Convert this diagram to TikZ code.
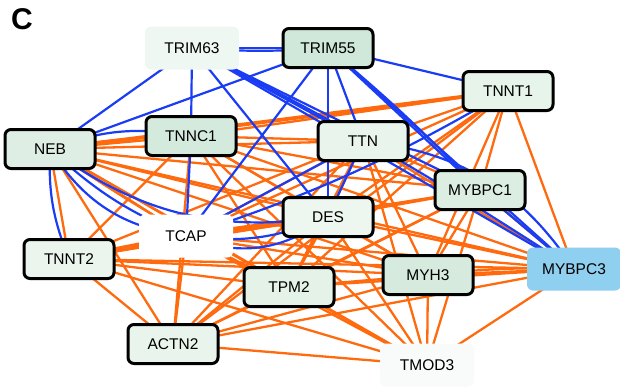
\documentclass[tikz,border=0pt]{standalone}
\usepackage{fontspec}
\setmainfont{Liberation Sans}
\usetikzlibrary{backgrounds}
\definecolor{eorange}{HTML}{FF6A0E}
\definecolor{eblue}{HTML}{1A3CF5}
\definecolor{fTRIMa}{HTML}{EEF7F1}
\definecolor{fTRIMb}{HTML}{CFE8D9}
\definecolor{fTNNTa}{HTML}{E6F4EA}
\definecolor{fNEB}{HTML}{DFEEE4}
\definecolor{fTNNC}{HTML}{D3EADC}
\definecolor{fTTN}{HTML}{E8F4EC}
\definecolor{fMYBPCa}{HTML}{DCEEE2}
\definecolor{fDES}{HTML}{EEF6F0}
\definecolor{fTNNTb}{HTML}{EBF5EE}
\definecolor{fMYBPCc}{HTML}{8FCFF0}
\definecolor{fMYH}{HTML}{D6EBDD}
\definecolor{fTPM}{HTML}{E4F2E8}
\definecolor{fACTN}{HTML}{E9F4EC}
\definecolor{fTMOD}{HTML}{F8FBF9}
\tikzset{
  gene/.style={rounded corners=6pt, minimum width=90pt, minimum height=39pt,
    line width=3pt, draw=black, font=\fontsize{15.5}{15.5}\selectfont, inner sep=0pt},
  plain/.style={rounded corners=6pt, minimum width=94pt, minimum height=43pt,
    font=\fontsize{15.5}{15.5}\selectfont, inner sep=0pt},
  oe/.style={draw=eorange, line width=2.3pt},
  oet/.style={draw=eorange, line width=5.5pt},
  be/.style={draw=eblue, line width=2.2pt},
}
\begin{document}
\begin{tikzpicture}[x=1pt,y=-1pt]
\useasboundingbox (0,0) rectangle (620,386);
\node[font=\fontsize{30}{30}\selectfont\bfseries] (lab) at (22,19) {C};
\node[plain, fill=fTRIMa] (TRIM63) at (192,48) {TRIM63};
\node[gene, fill=fTRIMb] (TRIM55) at (328,48) {TRIM55};
\node[gene, fill=fTNNTa] (TNNT1) at (508,91) {TNNT1};
\node[gene, fill=fNEB] (NEB) at (50,149) {NEB};
\node[gene, fill=fTNNC] (TNNC1) at (191,136) {TNNC1};
\node[gene, fill=fTTN] (TTN) at (363,141) {TTN};
\node[gene, fill=fMYBPCa] (MYBPC1) at (480,190) {MYBPC1};
\node[gene, fill=fDES] (DES) at (328,217) {DES};
\node[plain, fill=white] (TCAP) at (186,236) {TCAP};
\node[gene, fill=fTNNTb] (TNNT2) at (69,259) {TNNT2};
\node[plain, fill=fMYBPCc] (MYBPC3) at (574,269) {MYBPC3};
\node[gene, fill=fMYH] (MYH3) at (428,275) {MYH3};
\node[gene, fill=fTPM] (TPM2) at (289,287) {TPM2};
\node[gene, fill=fACTN] (ACTN2) at (173,344) {ACTN2};
\node[plain, fill=fTMOD] (TMOD3) at (427,365) {TMOD3};
\begin{scope}[on background layer]
% orange edges (near complete graph)
\foreach \a/\b in {NEB/TNNC1,NEB/TTN,NEB/TNNT1,NEB/MYBPC1,NEB/DES,NEB/TCAP,NEB/TNNT2,NEB/MYBPC3,NEB/MYH3,NEB/TPM2,NEB/ACTN2,NEB/TMOD3,
  TNNC1/TTN,TNNC1/TNNT1,TNNC1/MYBPC1,TNNC1/DES,TNNC1/TNNT2,TNNC1/MYBPC3,TNNC1/MYH3,TNNC1/TPM2,TNNC1/ACTN2,TNNC1/TMOD3,
  TTN/TNNT1,TTN/MYBPC1,TTN/DES,TTN/TCAP,TTN/TNNT2,TTN/MYBPC3,TTN/MYH3,TTN/TPM2,TTN/ACTN2,TTN/TMOD3,
  TNNT1/MYBPC1,TNNT1/DES,TNNT1/TCAP,TNNT1/MYBPC3,TNNT1/MYH3,TNNT1/TPM2,TNNT1/ACTN2,
  MYBPC1/DES,MYBPC1/TCAP,MYBPC1/TNNT2,MYBPC1/MYBPC3,MYBPC1/MYH3,MYBPC1/TPM2,MYBPC1/ACTN2,MYBPC1/TMOD3,
  DES/TNNT2,DES/MYBPC3,DES/MYH3,DES/TPM2,DES/ACTN2,DES/TMOD3,
  TCAP/MYBPC3,TCAP/MYH3,TCAP/TPM2,TCAP/ACTN2,TCAP/TMOD3,
  TNNT2/MYBPC3,TNNT2/MYH3,TNNT2/TPM2,TNNT2/ACTN2,TNNT2/TMOD3,
  MYBPC3/MYH3,MYBPC3/TPM2,MYBPC3/ACTN2,MYBPC3/TMOD3,
  MYH3/TPM2,MYH3/ACTN2,MYH3/TMOD3,
  TPM2/ACTN2,TPM2/TMOD3,ACTN2/TMOD3}
  {\draw[oe] (\a.center) -- (\b.center);}
\draw[oet] (TCAP.center) -- (DES.center);
\draw[oet] (TCAP.center) -- (TNNT2.center);
\draw[draw=eorange, line width=3.8pt] (NEB.center) -- (TNNT1.center);
\draw[oe] (NEB.center) to[bend left=4] (TNNC1.center);
\draw[oe] (MYH3.center) to[bend left=4] (MYBPC3.center);
\draw[oe] (NEB.center) to[bend right=4] (TPM2.center);
% blue edges
\draw[be] (TRIM63.center) -- (TRIM55.center);
\draw[be] (TRIM63.center) to[bend right=4] (TRIM55.center);
\foreach \b in {NEB,TNNC1,DES,TTN,MYBPC1,MYBPC3}
  {\draw[be] (TRIM63.center) -- (\b.center);}
\draw[be] (TRIM63.center) to[bend left=3] (MYBPC3.center);
\foreach \b in {NEB,TNNT1,TTN,TCAP,MYBPC1,MYBPC3,DES}
  {\draw[be] (TRIM55.center) -- (\b.center);}
\draw[be] (TRIM55.center) to[bend left=3] (MYBPC1.center);
\draw[be] (TTN.center) to[bend left=25] (MYBPC3.center);
\draw[be] (TNNT1.center) to[bend left=6] (TCAP.center);
\draw[be] (NEB.center) to[bend left=15] (TNNC1.center);
\draw[be] (NEB.center) to[bend right=10] (TCAP.center);
\draw[be] (NEB.center) to[bend right=25] (TCAP.center);
\draw[be] (NEB.center) to[bend right=12] (TNNT2.center);
\draw[be] (NEB.center) to[bend right=22] (DES.center);
\draw[be] (TCAP.center) to[bend right=15] (DES.center);
\draw[be] (TCAP.center) to[bend right=30] (DES.center);
\draw[be] (MYBPC1.center) -- (MYBPC3.center);
\draw[be] (TNNC1.center) -- (TCAP.center);
\draw[be] (TTN.center) -- (TCAP.center);
\draw[be] (TTN.center) -- (DES.center);
\end{scope}
\end{tikzpicture}
\end{document}
